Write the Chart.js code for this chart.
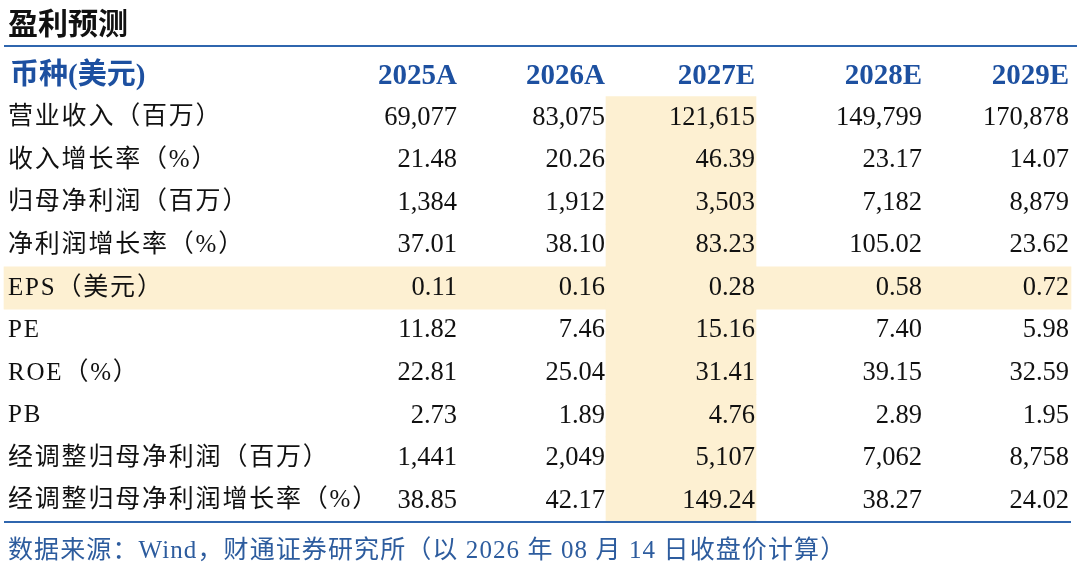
<!DOCTYPE html>
<html>
<head>
<meta charset="utf-8">
<script src="https://cdn.jsdelivr.net/npm/chart.js@4.4.1/dist/chart.umd.min.js"></script>
<style>
html,body{margin:0;padding:0;background:#fff;}
#wrap{position:relative;width:1080px;height:572px;}
</style>
</head>
<body>
<div id="wrap"><canvas id="c"></canvas></div>
<script>
// ---- data ----
const title = '盈利预测';
const headerLabel = '币种(美元)';
const years = ['2025A', '2026A', '2027E', '2028E', '2029E'];
const rowLabels = ['营业收入（百万）', '收入增长率（%）', '归母净利润（百万）', '净利润增长率（%）', 'EPS（美元）', 'PE', 'ROE（%）', 'PB', '经调整归母净利润（百万）', '经调整归母净利润增长率（%）'];
const rowDecimals = [0, 2, 0, 2, 2, 2, 2, 2, 0, 2];
const v2025A = [69077, 21.48, 1384, 37.01, 0.11, 11.82, 22.81, 2.73, 1441, 38.85];
const v2026A = [83075, 20.26, 1912, 38.10, 0.16, 7.46, 25.04, 1.89, 2049, 42.17];
const v2027E = [121615, 46.39, 3503, 83.23, 0.28, 15.16, 31.41, 4.76, 5107, 149.24];
const v2028E = [149799, 23.17, 7182, 105.02, 0.58, 7.40, 39.15, 2.89, 7062, 38.27];
const v2029E = [170878, 14.07, 8879, 23.62, 0.72, 5.98, 32.59, 1.95, 8758, 24.02];
const highlightRow = 'EPS（美元）';
const highlightYear = '2027E';
const footer = '数据来源：Wind，财通证券研究所（以 2026 年 08 月 14 日收盘价计算）';

// ---- layout (positions on a 0..1080 x scale) ----
const colRight = [457, 605, 755, 922, 1069];
const colHighlightSpan = [606, 756];
const rowHighlightSpan = [4, 1071];
const labelX = 8;

const series = [v2025A, v2026A, v2027E, v2028E, v2029E];
const categories = [headerLabel].concat(rowLabels);
const hiRow = rowLabels.indexOf(highlightRow);

const colBand = categories.map((c, i) => i === 0 ? null : colHighlightSpan.slice());
const rowBand = categories.map((c, i) => (i - 1) === hiRow ? rowHighlightSpan.slice() : null);

const fill = '#fdf0d2';
const blue = '#1d50a0';
const lineBlue = '#2f66ae';
const footBlue = '#2d5c9e';
const serifCJK = "'Liberation Serif', 'Noto Sans CJK SC', serif";

function fmt(v, d) {
  return v.toLocaleString('en-US', {minimumFractionDigits: d, maximumFractionDigits: d});
}

const tablePlugin = {
  id: 'tableText',
  afterDatasetsDraw(chart) {
    const ctx = chart.ctx;
    const x = chart.scales.x, y = chart.scales.y;
    ctx.save();
    ctx.letterSpacing = '0px';
    // title
    ctx.fillStyle = '#111';
    ctx.font = "bold 30px " + serifCJK;
    ctx.textAlign = 'left';
    ctx.textBaseline = 'middle';
    ctx.fillText(title, labelX, 26);
    // lines
    const band = y.getPixelForValue(1) - y.getPixelForValue(0);
    ctx.strokeStyle = lineBlue;
    ctx.lineWidth = 2;
    ctx.beginPath();
    ctx.moveTo(x.getPixelForValue(4), 46);
    ctx.lineTo(x.getPixelForValue(1077), 46);
    ctx.stroke();
    const yb = y.getPixelForValue(categories.length - 1) + band / 2;
    ctx.beginPath();
    ctx.moveTo(x.getPixelForValue(4), yb);
    ctx.lineTo(x.getPixelForValue(1071), yb);
    ctx.stroke();
    // header
    ctx.fillStyle = blue;
    ctx.font = "bold 29px " + serifCJK;
    const hy = y.getPixelForValue(0) + 1;
    ctx.textAlign = 'left';
    ctx.fillText(headerLabel, labelX + 2, hy);
    ctx.textAlign = 'right';
    years.forEach((yr, j) => ctx.fillText(yr, x.getPixelForValue(colRight[j]), hy));
    // rows
    ctx.fillStyle = '#111';
    rowLabels.forEach((lab, i) => {
      const py = y.getPixelForValue(i + 1);
      ctx.font = "25px " + serifCJK;
      ctx.textAlign = 'left';
      ctx.letterSpacing = '1.8px';
      ctx.fillText(lab, labelX, py);
      ctx.letterSpacing = '0px';
      ctx.font = "26.5px 'Liberation Serif', serif";
      ctx.textAlign = 'right';
      series.forEach((s, j) => ctx.fillText(fmt(s[i], rowDecimals[i]), x.getPixelForValue(colRight[j]), py));
    });
    // footer
    ctx.fillStyle = footBlue;
    ctx.font = "25px " + serifCJK;
    ctx.textAlign = 'left';
    ctx.letterSpacing = '1.1px';
    ctx.fillText(footer, labelX, 551);
    ctx.letterSpacing = '0px';
    ctx.restore();
  }
};

new Chart(document.getElementById('c'), {
  type: 'bar',
  data: {
    labels: categories,
    datasets: [
      {data: colBand, backgroundColor: fill, borderWidth: 0, categoryPercentage: 1, barPercentage: 1, grouped: false},
      {data: rowBand, backgroundColor: fill, borderWidth: 0, categoryPercentage: 1, barPercentage: 1, grouped: false}
    ]
  },
  options: {
    indexAxis: 'y',
    responsive: true,
    maintainAspectRatio: false,
    animation: false,
    layout: {padding: {top: 54, bottom: 50, left: 0, right: 0}},
    scales: {
      x: {type: 'linear', min: 0, max: 1080, display: false},
      y: {type: 'category', display: false}
    },
    plugins: {legend: {display: false}, tooltip: {enabled: false}}
  },
  plugins: [tablePlugin]
});
</script>
</body>
</html>
